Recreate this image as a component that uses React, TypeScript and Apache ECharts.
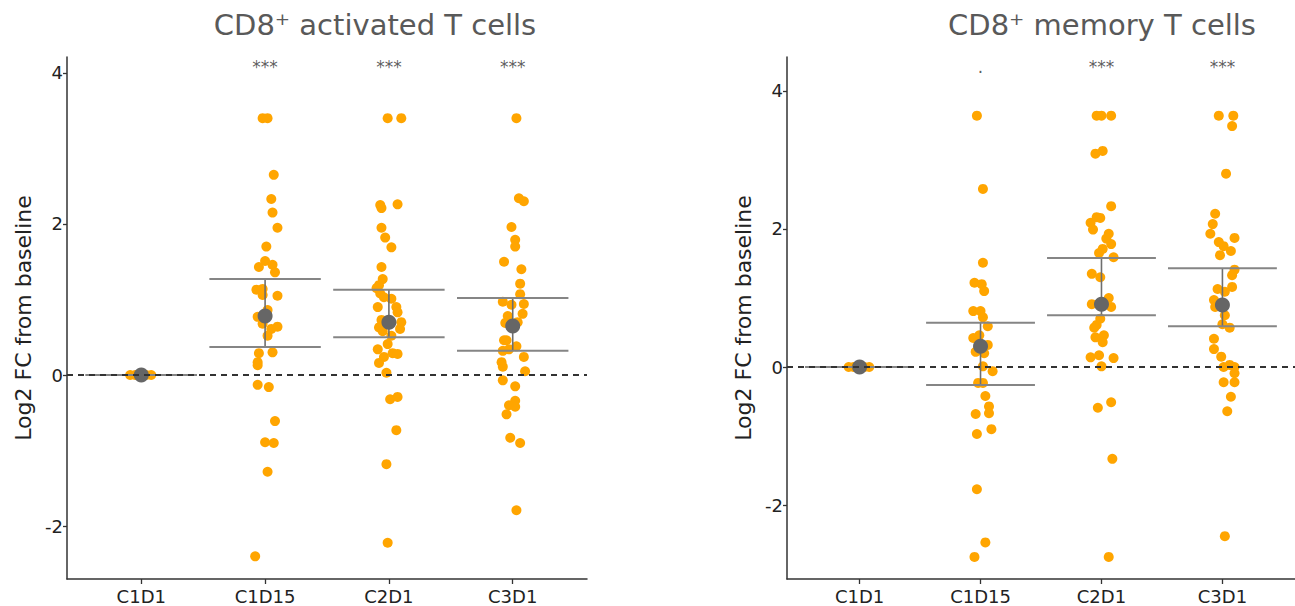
import React, { useEffect, useRef } from "react";
import * as echarts from "echarts";

const categories = ["C1D1", "C1D15", "C2D1", "C3D1"];
const yTicksLeft = [-2, 0, 2, 4];
const yTicksRight = [-2, 0, 2, 4];
const xTicks = [1, 2, 3, 4];

// CD8+ activated T cells
const actC1D1Vals = [0, 0, 0, 0, 0];
const actC1D1Jit = [-0.09, -0.05, 0, 0.04, 0.08];
const actC1D15Vals = [3.4, 3.4, 2.65, 2.33, 2.15, 1.95, 1.7, 1.51, 1.43, 1.46, 1.36, 1.13, 1.14, 1.06, 1.05, 0.86, 0.77, 0.68, 0.61, 0.64, 0.52, 0.29, 0.3, 0.17, 0.13, -0.13, -0.16, -0.61, -0.89, -0.9, -1.28, -2.4];
const actC1D15Jit = [-0.02, 0.02, 0.07, 0.05, 0.06, 0.1, 0.01, 0.0, -0.05, 0.06, 0.08, -0.07, -0.02, -0.02, 0.1, 0.02, -0.06, -0.02, 0.05, 0.1, 0.02, -0.05, 0.06, -0.06, -0.06, -0.06, 0.03, 0.08, 0.0, 0.07, 0.02, -0.08];
const actC2D1Vals = [3.4, 3.4, 2.25, 2.21, 2.26, 1.95, 1.82, 1.69, 1.43, 1.27, 1.19, 1.15, 1.08, 1.03, 1.01, 0.9, 0.9, 0.83, 0.73, 0.7, 0.63, 0.58, 0.61, 0.52, 0.41, 0.34, 0.24, 0.29, 0.28, 0.16, 0.03, -0.32, -0.29, -0.73, -1.18, -2.22];
const actC2D1Jit = [-0.01, 0.1, -0.07, -0.06, 0.07, -0.06, -0.03, 0.02, -0.06, -0.05, -0.08, -0.1, -0.07, -0.04, 0.02, -0.09, 0.06, 0.07, -0.06, 0.1, -0.08, -0.05, 0.09, 0.02, -0.01, -0.09, -0.04, 0.03, 0.07, -0.08, -0.02, 0.01, 0.07, 0.06, -0.02, -0.01];
const actC3D1Vals = [3.4, 2.34, 2.3, 1.96, 1.79, 1.7, 1.5, 1.4, 1.21, 1.07, 0.97, 0.93, 0.94, 0.81, 0.78, 0.7, 0.69, 0.46, 0.46, 0.38, 0.32, 0.34, 0.24, 0.17, 0.11, 0.05, -0.07, -0.15, -0.34, -0.4, -0.42, -0.52, -0.83, -0.9, -1.79];
const actC3D1Jit = [0.03, 0.05, 0.09, -0.01, 0.02, 0.02, -0.07, 0.07, 0.06, 0.06, -0.08, -0.01, 0.09, 0.08, -0.04, 0.04, -0.06, -0.07, -0.05, 0.03, -0.08, -0.03, 0.09, -0.09, -0.08, 0.1, -0.08, 0.02, 0.02, -0.03, 0.02, -0.05, -0.02, 0.06, 0.03];
const actMeans = [0, 0.78, 0.7, 0.65];
const actLower = [0, 0.37, 0.5, 0.32];
const actUpper = [0, 1.27, 1.13, 1.02];
const actStars = ["", "***", "***", "***"];

// CD8+ memory T cells
const memC1D1Vals = [0, 0, 0, 0, 0];
const memC1D1Jit = [-0.09, -0.05, 0, 0.04, 0.08];
const memC1D15Vals = [3.64, 2.58, 1.51, 1.22, 1.2, 1.1, 0.81, 0.81, 0.72, 0.59, 0.42, 0.46, 0.32, 0.22, 0.2, 0.01, -0.06, -0.23, -0.23, -0.42, -0.57, -0.67, -0.68, -0.9, -0.97, -1.77, -2.54, -2.75];
const memC1D15Jit = [-0.03, 0.02, 0.02, -0.05, 0.01, 0.03, -0.06, 0.0, 0.02, 0.06, -0.06, -0.01, 0.06, -0.04, 0.03, 0.02, 0.1, -0.02, 0.02, 0.04, 0.07, 0.07, -0.04, 0.09, -0.03, -0.03, 0.04, -0.05];
const memC2D1Vals = [3.64, 3.64, 3.64, 3.09, 3.13, 2.33, 2.17, 2.16, 2.09, 1.99, 1.93, 1.86, 1.78, 1.71, 1.65, 1.59, 1.35, 1.3, 1.0, 0.91, 0.87, 0.7, 0.61, 0.57, 0.46, 0.43, 0.36, 0.14, 0.17, 0.13, 0.01, -0.51, -0.59, -1.33, -2.75];
const memC2D1Jit = [-0.04, 0.0, 0.08, -0.05, 0.01, 0.08, -0.04, -0.01, -0.09, -0.07, 0.06, 0.04, 0.08, 0.01, -0.02, 0.1, -0.08, -0.01, 0.06, -0.08, 0.08, -0.01, -0.04, -0.06, 0.02, -0.05, 0.01, -0.09, -0.02, 0.1, 0.0, 0.08, -0.03, 0.09, 0.06];
const memC3D1Vals = [3.64, 3.64, 3.49, 2.8, 2.22, 2.07, 1.93, 1.81, 1.75, 1.87, 1.68, 1.62, 1.41, 1.33, 1.16, 1.13, 1.09, 0.97, 0.87, 0.75, 0.62, 0.57, 0.41, 0.26, 0.15, 0.0, 0.03, 0.0, -0.09, -0.22, -0.22, -0.43, -0.64, -2.45];
const memC3D1Jit = [-0.03, 0.09, 0.08, 0.03, -0.06, -0.08, -0.1, -0.03, 0.01, 0.1, 0.07, -0.02, 0.1, 0.08, 0.08, -0.04, 0.02, -0.07, -0.06, 0.02, 0.0, 0.06, -0.07, -0.07, -0.01, 0.01, 0.06, 0.1, 0.1, 0.01, 0.1, 0.07, 0.04, 0.02];
const memMeans = [0, 0.3, 0.91, 0.9];
const memLower = [0, -0.26, 0.75, 0.59];
const memUpper = [0, 0.64, 1.58, 1.43];
const memStars = ["", ".", "***", "***"];

const ORANGE = "#FFA500";
const TICK_FONT = "'DejaVu Sans', Verdana, sans-serif";
const TITLE_FONT = "'DejaVu Sans', sans-serif";

function points(groups: [number[], number[]][]) {
  const out: number[][] = [];
  groups.forEach(([vals, jit], i) => {
    vals.forEach((v, k) => out.push([i + 1 + jit[k], v]));
  });
  return out;
}

function errorRender(params: any, api: any) {
  const x = api.value(0);
  const lo = api.value(1);
  const hi = api.value(2);
  const a = api.coord([x, lo]);
  const b = api.coord([x, hi]);
  const l1 = api.coord([x - 0.45, lo]);
  const r1 = api.coord([x + 0.45, lo]);
  const l2 = api.coord([x - 0.45, hi]);
  const r2 = api.coord([x + 0.45, hi]);
  const hs = { stroke: "#858585", lineWidth: 2 };
  const vs = { stroke: "#6e6e6e", lineWidth: 1.6 };
  return {
    type: "group",
    children: [
      { type: "line", shape: { x1: a[0], y1: a[1], x2: b[0], y2: b[1] }, style: vs },
      { type: "line", shape: { x1: l1[0], y1: l1[1], x2: r1[0], y2: r1[1] }, style: hs },
      { type: "line", shape: { x1: l2[0], y1: l2[1], x2: r2[0], y2: r2[1] }, style: hs },
    ],
  };
}

function panelSeries(idx: number, pts: number[][], means: number[], lower: number[], upper: number[], stars: string[], starY: number) {
  return [
    {
      type: "line",
      xAxisIndex: idx,
      yAxisIndex: idx,
      data: [],
      z: 1,
      markLine: {
        silent: true,
        symbol: ["none", "none"],
        label: { show: false },
        lineStyle: { type: [6, 5], color: "#333", width: 1.8 },
        data: [{ yAxis: 0 }],
      },
    },
    {
      type: "scatter",
      xAxisIndex: idx,
      yAxisIndex: idx,
      data: pts,
      symbolSize: 10,
      itemStyle: { color: ORANGE, opacity: 1 },
      z: 2,
    },
    {
      type: "custom",
      xAxisIndex: idx,
      yAxisIndex: idx,
      renderItem: errorRender,
      encode: { x: 0, y: [1, 2] },
      data: means.map((m, i) => [i + 1, lower[i], upper[i]]),
      z: 3,
    },
    {
      type: "scatter",
      xAxisIndex: idx,
      yAxisIndex: idx,
      data: means.map((m, i) => [i + 1, m]),
      symbolSize: 15,
      itemStyle: { color: "#666666", opacity: 1 },
      z: 4,
    },
    {
      type: "scatter",
      xAxisIndex: idx,
      yAxisIndex: idx,
      data: stars.map((s, i) => [i + 1, starY, s]),
      symbolSize: 1,
      itemStyle: { color: "rgba(0,0,0,0)" },
      label: {
        show: true,
        position: "inside",
        formatter: (p: any) => p.data[2],
        fontSize: 17,
        color: "#333",
        fontFamily: TICK_FONT,
      },
      z: 5,
    },
  ];
}

function xAxisCfg(gridIndex: number) {
  return {
    type: "value",
    gridIndex,
    min: 0.4,
    max: 4.6,
    axisLine: { show: true, onZero: false, lineStyle: { color: "#333", width: 1.5 } },
    axisTick: { show: true, customValues: xTicks, length: 5, lineStyle: { color: "#333", width: 1.3 } },
    axisLabel: {
      customValues: xTicks,
      formatter: (v: number) => categories[Math.round(v) - 1],
      fontSize: 18,
      color: "#222",
      fontFamily: TICK_FONT,
      margin: 8,
    },
    splitLine: { show: false },
  };
}

function yAxisCfg(gridIndex: number, min: number, max: number, ticks: number[]) {
  return {
    type: "value",
    gridIndex,
    min,
    max,
    name: "Log2 FC from baseline",
    nameLocation: "middle",
    nameGap: 33,
    nameTextStyle: { fontSize: 22, color: "#222", fontFamily: TICK_FONT },
    axisLine: { show: true, onZero: false, lineStyle: { color: "#333", width: 1.5 } },
    axisTick: { show: true, customValues: ticks, length: 4, lineStyle: { color: "#333", width: 1.3 } },
    axisLabel: {
      customValues: ticks,
      fontSize: 18,
      color: "#222",
      fontFamily: TICK_FONT,
      margin: 4,
    },
    splitLine: { show: false },
  };
}

export default function App() {
  const ref = useRef<HTMLDivElement>(null);
  useEffect(() => {
    if (!ref.current) return;
    const chart = echarts.init(ref.current, null, { renderer: "svg" });
    const actPts = points([
      [actC1D1Vals, actC1D1Jit],
      [actC1D15Vals, actC1D15Jit],
      [actC2D1Vals, actC2D1Jit],
      [actC3D1Vals, actC3D1Jit],
    ]);
    const memPts = points([
      [memC1D1Vals, memC1D1Jit],
      [memC1D15Vals, memC1D15Jit],
      [memC2D1Vals, memC2D1Jit],
      [memC3D1Vals, memC3D1Jit],
    ]);
    chart.setOption({
      animation: false,
      backgroundColor: "#ffffff",
      grid: [
        { left: 67, top: 57, width: 520, height: 522, containLabel: false },
        { left: 787, top: 57, width: 519, height: 522, containLabel: false },
      ],
      xAxis: [xAxisCfg(0), xAxisCfg(1)],
      yAxis: [yAxisCfg(0, -2.7, 4.21, yTicksLeft), yAxisCfg(1, -3.07, 4.49, yTicksRight)],
      graphic: [
        {
          type: "text",
          x: 375,
          y: 25,
          style: {
            text: "CD8⁺ activated T cells",
            fontSize: 29,
            fontFamily: TITLE_FONT,
            fill: "#595959",
            align: "center",
            verticalAlign: "middle",
          },
        },
        {
          type: "text",
          x: 1102,
          y: 25,
          style: {
            text: "CD8⁺ memory T cells",
            fontSize: 29,
            fontFamily: TITLE_FONT,
            fill: "#595959",
            align: "center",
            verticalAlign: "middle",
          },
        },
      ],
      series: [
        ...panelSeries(0, actPts, actMeans, actLower, actUpper, actStars, 4.08),
        ...panelSeries(1, memPts, memMeans, memLower, memUpper, memStars, 4.35),
      ],
    });
    return () => chart.dispose();
  }, []);
  return (
    <div
      ref={ref}
      style={{ position: "fixed", left: 0, top: 0, width: 1295, height: 606, background: "#fff" }}
    />
  );
}
